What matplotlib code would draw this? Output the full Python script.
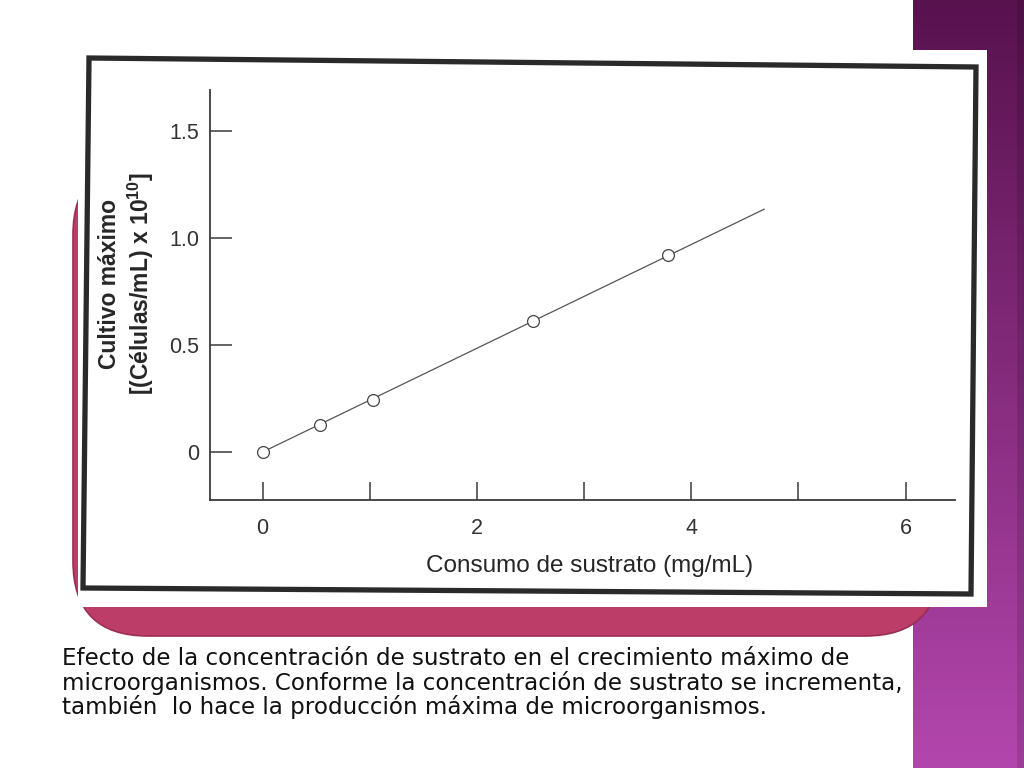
import matplotlib
matplotlib.use("Agg")
import matplotlib.pyplot as plt
import numpy as np
from matplotlib.patches import FancyBboxPatch, Rectangle, Polygon

plt.rcParams["mathtext.fontset"] = "custom"
plt.rcParams["mathtext.rm"] = "Liberation Sans"
plt.rcParams["mathtext.bf"] = "Liberation Sans:bold"
plt.rcParams["mathtext.it"] = "Liberation Sans:italic"

# ---- data ----
sustrato = [0.0, 0.54, 1.03, 2.52, 3.78]          # mg/mL
cultivo = [0.0, 0.125, 0.243, 0.612, 0.92]         # x 10^10 cells/mL
recta_x = [0.0, 4.68]
recta_y = [0.0, 1.135]
xticks = [0, 1, 2, 3, 4, 5, 6]
xticklabels = ["0", "", "2", "", "4", "", "6"]
yticks = [0, 0.5, 1.0, 1.5]
yticklabels = ["0", "0.5", "1.0", "1.5"]
xlabel = "Consumo de sustrato (mg/mL)"
ylabel = "Cultivo máximo\n[(Células/mL) x 10$\\mathbf{^{10}}$]"
caption = ("Efecto de la concentración de sustrato en el crecimiento máximo de\n"
           "microorganismos. Conforme la concentración de sustrato se incrementa,\n"
           "también  lo hace la producción máxima de microorganismos.")

W, H = 1024, 768
fig = plt.figure(figsize=(W / 100, H / 100), dpi=100)
fig.patch.set_facecolor("white")

# ---- slide decoration (pixel coordinates) ----
bg = fig.add_axes([0, 0, 1, 1])
bg.set_xlim(0, W)
bg.set_ylim(H, 0)
bg.axis("off")

# purple stripe with vertical gradient
top = np.array([0x58, 0x12, 0x4e]) / 255
bot = np.array([0xb3, 0x46, 0xad]) / 255
t = np.linspace(0, 1, 256)[:, None]
grad = (top[None, :] * (1 - t) + bot[None, :] * t)[:, None, :]
bg.imshow(grad, extent=[913, 1024, 768, 0], aspect="auto", zorder=1)
bg.add_patch(Rectangle((1017, 0), 7, 768, color="#000000", alpha=0.12, lw=0, zorder=2))

# crimson rounded shape behind the picture
bg.add_patch(FancyBboxPatch((73 + 75, 160 + 75), 940 - 73 - 150, 636 - 160 - 150,
                            boxstyle="round,pad=75", facecolor="#bd3d69",
                            edgecolor="#9c2d57", lw=1.2, zorder=3))

# white scanned picture and its black frame
bg.add_patch(Rectangle((78, 50), 987 - 78, 607 - 50, facecolor="white", lw=0, zorder=4))
bg.add_patch(Polygon([(89, 58), (976, 67), (971, 594), (83, 588)], closed=True,
                     fill=False, edgecolor="#2a2a2a", lw=3.8, joinstyle="miter", zorder=5))

# ---- chart ----
def fx(px):
    return px / W

def fy(py):
    return 1 - py / H

ax = fig.add_axes([fx(210), fy(500), fx(955) - fx(210), fy(90) - fy(500)], zorder=6)
ax.patch.set_alpha(0)
ax.set_xlim(-0.49, 6.46)
ax.set_ylim(-0.224, 1.692)
for s in ["top", "right"]:
    ax.spines[s].set_visible(False)
for s in ["left", "bottom"]:
    ax.spines[s].set_color("#3a3a3a")
    ax.spines[s].set_linewidth(1.3)

ax.plot(recta_x, recta_y, color="#555555", lw=0.9, zorder=2)
ax.plot(sustrato, cultivo, linestyle="none", marker="o", markersize=8.5,
        markerfacecolor="white", markeredgecolor="#444444", markeredgewidth=0.9, zorder=3)

ax.set_xticks(xticks)
ax.set_xticklabels(xticklabels)
ax.set_yticks(yticks)
ax.set_yticklabels(yticklabels)
ax.tick_params(axis="x", direction="in", length=13, width=1.1, color="#3a3a3a",
               pad=13, labelsize=15.5, labelcolor="#333333")
ax.tick_params(axis="y", direction="in", length=16, width=1.1, color="#3a3a3a",
               pad=8, labelsize=15.5, labelcolor="#333333")
for lab in ax.get_xticklabels() + ax.get_yticklabels():
    lab.set_family(["Liberation Sans", "DejaVu Sans"])

fig.text(fx(590), fy(566), xlabel, ha="center", va="center", fontsize=17.5,
         color="#262626", family=["Liberation Sans", "DejaVu Sans"], zorder=7)
fig.text(fx(127), fy(284), ylabel, ha="center", va="center", rotation=90,
         fontsize=16.5, fontweight="bold", color="#262626", linespacing=1.2,
         multialignment="center", family=["Liberation Sans", "DejaVu Sans"], zorder=7)

# ---- caption ----
fig.text(fx(62), fy(647), caption, ha="left", va="top", fontsize=16.6,
         color="#111111", linespacing=1.03, family=["DejaVu Sans"], zorder=7)

fig.savefig("out.png", dpi=100)
